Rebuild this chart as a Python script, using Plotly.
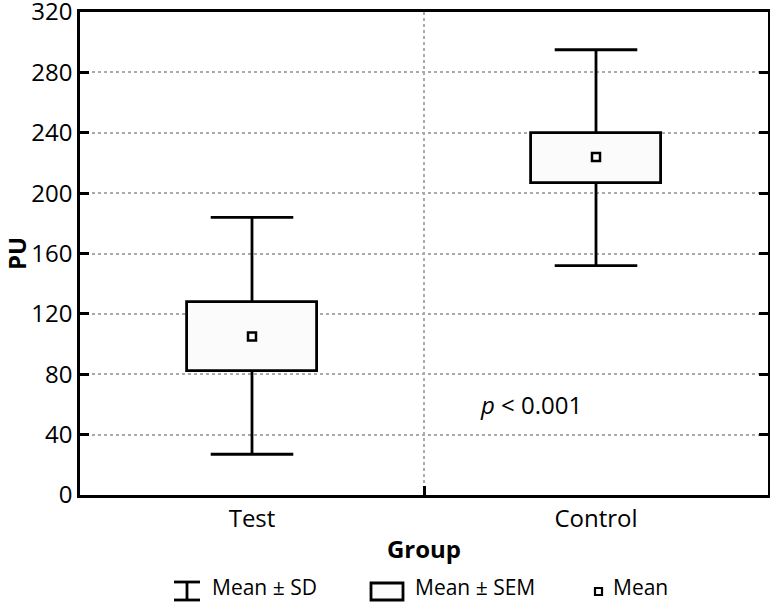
import plotly.graph_objects as go

groups = ["Test", "Control"]
mean = [105, 224]
sem_low = [82, 207]
sem_high = [128, 240]
sd_low = [27, 152]
sd_high = [184, 295]
y_ticks = [0, 40, 80, 120, 160, 200, 240, 280, 320]

FONT = "Open Sans"
FS = 24
xs = list(range(len(groups)))
box_w = 0.38
cap_half = 0.12

fig = go.Figure()

# SEM boxes
fig.add_trace(go.Bar(
    x=xs, y=[h - l for h, l in zip(sem_high, sem_low)], base=sem_low,
    width=box_w, marker=dict(color="#fbfbfb", line=dict(color="black", width=2.8)),
    showlegend=False, hoverinfo="skip"))

# whiskers and caps
wx, wy = [], []
for i in xs:
    wx += [i, i, None, i, i, None]
    wy += [sem_high[i], sd_high[i], None, sem_low[i], sd_low[i], None]
    wx += [i - cap_half, i + cap_half, None, i - cap_half, i + cap_half, None]
    wy += [sd_high[i], sd_high[i], None, sd_low[i], sd_low[i], None]
fig.add_trace(go.Scatter(x=wx, y=wy, mode="lines", line=dict(color="black", width=2.8),
                         showlegend=False, hoverinfo="skip"))

# means
fig.add_trace(go.Scatter(x=xs, y=mean, mode="markers",
                         marker=dict(symbol="square-open", size=8, color="black",
                                     line=dict(width=2.5, color="black")),
                         showlegend=False))

fig.add_annotation(x=0.81, y=60, xref="x", yref="y", showarrow=False,
                   text="<i>p</i> &lt; 0.001", font=dict(family=FONT, size=FS, color="black"))

# legend drawn manually below the axis title
def px_x(p):
    return (p - 80) / 688
def px_y(p):
    return (495 - p) / 483

lw = 2.8
shapes = [
    dict(type="line", xref="paper", yref="paper", x0=px_x(174), x1=px_x(200), y0=px_y(582), y1=px_y(582), line=dict(color="black", width=lw)),
    dict(type="line", xref="paper", yref="paper", x0=px_x(174), x1=px_x(200), y0=px_y(600), y1=px_y(600), line=dict(color="black", width=lw)),
    dict(type="line", xref="paper", yref="paper", x0=px_x(187), x1=px_x(187), y0=px_y(582), y1=px_y(600), line=dict(color="black", width=lw)),
    dict(type="rect", xref="paper", yref="paper", x0=px_x(371), x1=px_x(403), y0=px_y(583), y1=px_y(600), line=dict(color="black", width=lw), fillcolor="#fbfbfb"),
    dict(type="rect", xref="paper", yref="paper", x0=px_x(595), x1=px_x(602), y0=px_y(588), y1=px_y(595), line=dict(color="black", width=2.2), fillcolor="white"),
]
for s in shapes:
    fig.add_shape(**s)
for txt, xp in [("Mean ± SD", 210), ("Mean ± SEM", 413), ("Mean", 611)]:
    fig.add_annotation(x=px_x(xp), y=px_y(603), xref="paper", yref="paper", xanchor="left",
                       yanchor="bottom", showarrow=False, text=txt,
                       font=dict(family=FONT, size=21, color="black"))

fig.update_layout(
    width=770, height=603,
    margin=dict(l=80, r=2, t=12, b=108, autoexpand=False),
    plot_bgcolor="white", paper_bgcolor="white",
    font=dict(family=FONT, size=FS, color="black"),
    bargap=0,
    xaxis=dict(range=[-0.5, 1.5], tickvals=xs, ticktext=groups, ticks="", showgrid=False,
               showline=True, linecolor="black", linewidth=2.5, mirror=True, zeroline=False,
               automargin=False,
               minor=dict(tickvals=[0.5], ticks="inside", ticklen=9, tickwidth=2.5, tickcolor="black",
                          showgrid=True, gridcolor="#aaaaaa", gridwidth=1.5, griddash="dot"),
               title=dict(text="<b>Group</b>", font=dict(family=FONT, size=FS), standoff=9),
               tickfont=dict(family=FONT, size=FS)),
    yaxis=dict(range=[0, 320], tickvals=y_ticks, ticks="inside", ticklen=9, tickwidth=2.5,
               tickcolor="black", showline=True, linecolor="black", linewidth=2.5, mirror="ticks",
               showgrid=True, gridcolor="#aaaaaa", gridwidth=1.5, griddash="dot", zeroline=False,
               ticklabeloverflow="allow", automargin=False,
               title=dict(text="<b>PU</b>", font=dict(family=FONT, size=FS), standoff=10),
               tickfont=dict(family=FONT, size=FS)),
)

fig.write_html("out.html", config={"displayModeBar": False},
               post_script="document.body.style.margin='0';")
